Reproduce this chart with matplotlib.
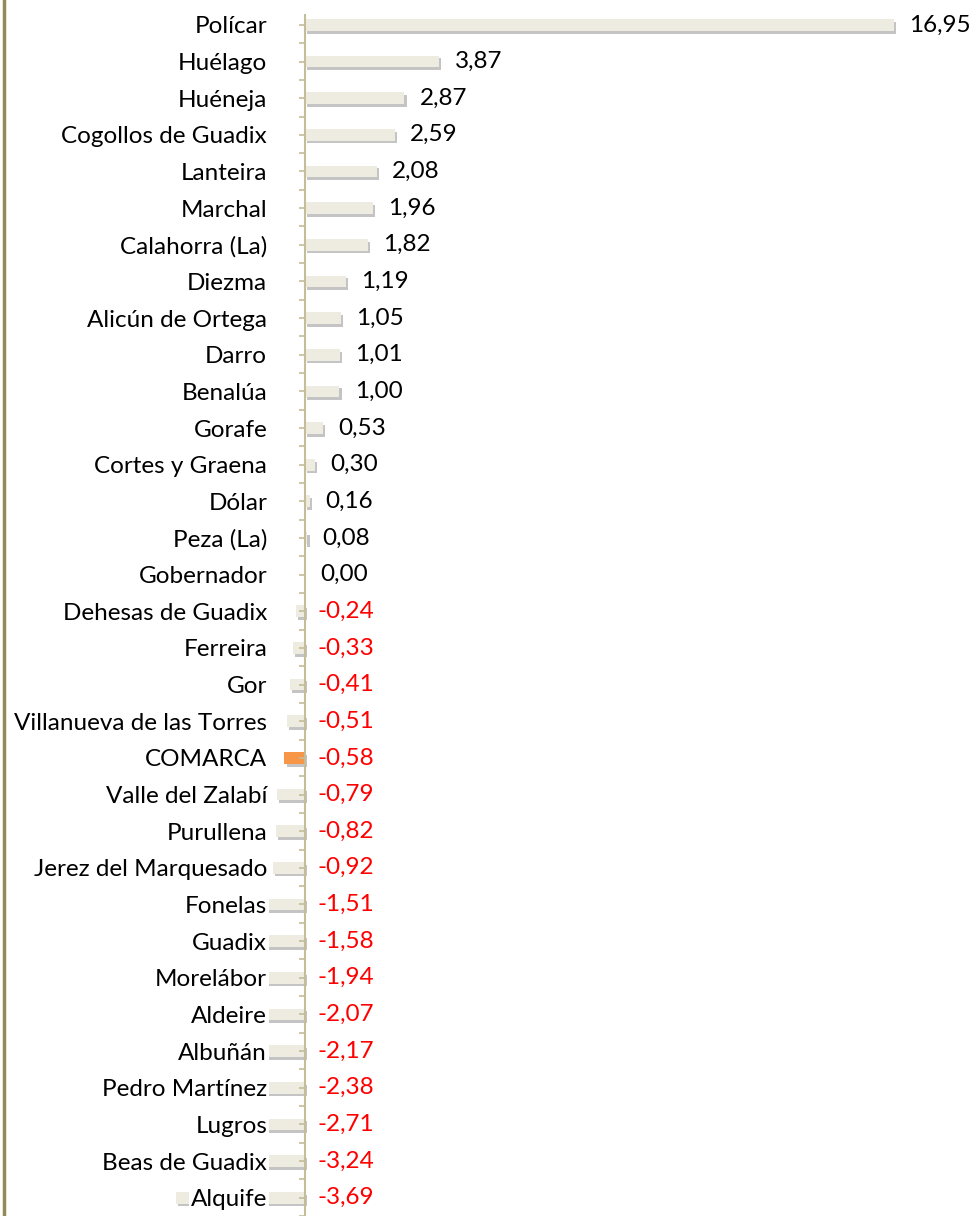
import matplotlib
matplotlib.use("Agg")
import matplotlib.pyplot as plt
from matplotlib import patheffects as pe
from matplotlib.lines import Line2D
from matplotlib.ticker import FixedLocator

categories = ["Polícar", "Huélago", "Huéneja", "Cogollos de Guadix", "Lanteira",
              "Marchal", "Calahorra (La)", "Diezma", "Alicún de Ortega", "Darro",
              "Benalúa", "Gorafe", "Cortes y Graena", "Dólar", "Peza (La)",
              "Gobernador", "Dehesas de Guadix", "Ferreira", "Gor",
              "Villanueva de las Torres", "COMARCA", "Valle del Zalabí",
              "Purullena", "Jerez del Marquesado", "Fonelas", "Guadix",
              "Morelábor", "Aldeire", "Albuñán", "Pedro Martínez", "Lugros",
              "Beas de Guadix", "Alquife"]
values = [16.95, 3.87, 2.87, 2.59, 2.08, 1.96, 1.82, 1.19, 1.05, 1.01, 1.00,
          0.53, 0.30, 0.16, 0.08, 0.00, -0.24, -0.33, -0.41, -0.51, -0.58,
          -0.79, -0.82, -0.92, -1.51, -1.58, -1.94, -2.07, -2.17, -2.38,
          -2.71, -3.24, -3.69]
highlight = "COMARCA"

plt.rcParams['font.family'] = ['Lato', 'DejaVu Sans']
FS = 17.5

W, H = 971, 1216
fig = plt.figure(figsize=(W / 100, H / 100), dpi=100)
left_px, right_px, top_px, bot_px = 169, 896, 15, 1216
ax = fig.add_axes([left_px / W, 1 - bot_px / H, (right_px - left_px) / W,
                   (bot_px - top_px) / H])

n = len(categories)
ypos = list(range(n))
colors = ['#F79646' if c == highlight else '#EEECE1' for c in categories]
bars = ax.barh(ypos, values, height=0.32, color=colors, edgecolor='none', zorder=1)
for b in bars:
    b.set_path_effects([pe.SimplePatchShadow(offset=(1.5, -2.0), shadow_rgbFace='#8a8a8a', alpha=0.5),
                        pe.Normal()])

ax.set_xlim(-3.9, 17.0)
ax.set_ylim(n - 0.5, -0.27)

for s in ['top', 'right', 'bottom']:
    ax.spines[s].set_visible(False)
ax.spines['left'].set_position(('data', 0))
ax.spines['left'].set_color('#C4BD97')
ax.spines['left'].set_linewidth(1.5)
ax.spines['left'].set_zorder(3)
ax.set_xticks([])

ax.set_yticks(ypos)
ax.set_yticklabels(categories, fontsize=FS)
ax.yaxis.set_minor_locator(FixedLocator([i + 0.5 for i in range(-1, n)]))
ax.tick_params(axis='y', which='major', length=4, width=1.2, color='#C4BD97', pad=23)
ax.tick_params(axis='y', which='minor', length=4, width=1.2, color='#C4BD97')
for lbl in ax.get_yticklabels():
    lbl.set_bbox(dict(facecolor='white', edgecolor='none', pad=1.5))

for y, v in zip(ypos, values):
    txt = f"{v:.2f}".replace('.', ',')
    if v >= 0:
        ax.annotate(txt, (v, y), xytext=(11, 0), textcoords='offset points',
                    ha='left', va='center', fontsize=FS, color='black',
                    annotation_clip=False)
    else:
        ax.annotate(txt, (0, y), xytext=(9, 0), textcoords='offset points',
                    ha='left', va='center', fontsize=FS, color='#FF0000',
                    annotation_clip=False)

fig.add_artist(Line2D([3.5 / W, 3.5 / W], [0, 1], transform=fig.transFigure,
                      color='#948A54', linewidth=2.5))

fig.savefig('out.png', dpi=100, facecolor='white')
